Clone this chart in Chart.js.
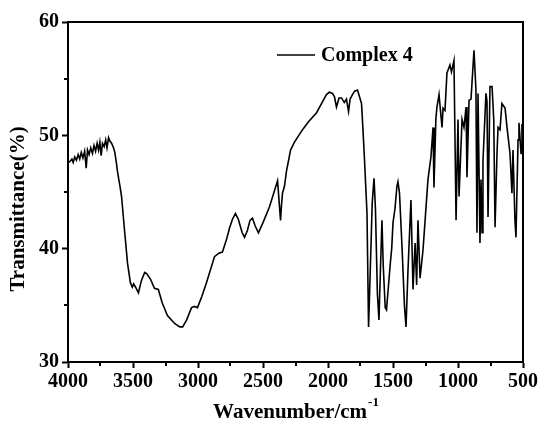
<!DOCTYPE html>
<html>
<head>
<meta charset="utf-8">
<title>IR spectrum</title>
<script src="https://cdn.jsdelivr.net/npm/chart.js@4.4.0/dist/chart.umd.min.js"></script>
<style>
  html, body { margin: 0; padding: 0; background: #fff; }
</style>
</head>
<body>
<canvas id="irChart" width="542" height="430"></canvas>
<script>
"use strict";

// Wavenumber (cm-1) and transmittance (%)
const wavenumbers = [
  4000, 3985, 3970, 3960, 3948, 3935, 3922, 3910, 3898, 3885,
  3872, 3860, 3850, 3838, 3825, 3812, 3800, 3788, 3776, 3765,
  3755, 3745, 3735, 3722, 3710, 3700, 3688, 3678, 3665, 3650,
  3640, 3628, 3618, 3600, 3588, 3565, 3542, 3520, 3505, 3495,
  3475, 3458, 3435, 3410, 3395, 3365, 3335, 3305, 3275, 3235,
  3180, 3140, 3118, 3088, 3050, 3027, 3004, 2970, 2935, 2873,
  2840, 2812, 2781, 2758, 2735, 2712, 2690, 2660, 2642, 2620,
  2600, 2581, 2560, 2535, 2500, 2450, 2388, 2375, 2365, 2358,
  2350, 2335, 2320, 2288, 2258, 2196, 2150, 2088, 2050, 2012,
  1990, 1965, 1950, 1935, 1915, 1896, 1875, 1858, 1842, 1830,
  1812, 1795, 1773, 1760, 1742, 1731, 1719, 1700, 1688, 1675,
  1660, 1646, 1635, 1620, 1608, 1597, 1585, 1575, 1560, 1550,
  1540, 1523, 1510, 1500, 1485, 1470, 1462, 1450, 1430, 1412,
  1400, 1385, 1362, 1346, 1330, 1318, 1308, 1292, 1269, 1250,
  1231, 1208, 1192, 1185, 1170, 1162, 1146, 1123, 1115, 1100,
  1085, 1062, 1050, 1031, 1015, 1000, 992, 969, 954, 938,
  931, 915, 900, 877, 862, 854, 846, 831, 823, 815,
  808, 785, 777, 769, 754, 738, 725, 715, 700, 692,
  677, 662, 638, 623, 600, 585, 577, 562, 554, 538,
  531, 515, 508, 500
];

const transmittance = [
  47.6, 47.7, 47.9, 47.6, 48.1, 47.8, 48.3, 47.9, 48.5, 48.0,
  48.6, 47.1, 48.7, 48.3, 48.9, 48.4, 49.1, 48.6, 49.3, 48.7,
  49.4, 48.2, 49.3, 49.0, 49.6, 48.9, 49.8, 49.5, 49.3, 48.9,
  48.5, 47.6, 46.7, 45.5, 44.6, 41.6, 38.7, 37.0, 36.6, 36.9,
  36.5, 36.1, 37.2, 37.9, 37.8, 37.3, 36.5, 36.4, 35.2, 34.1,
  33.4, 33.1, 33.1, 33.7, 34.8, 34.9, 34.8, 35.8, 37.0, 39.3,
  39.6, 39.7, 40.8, 41.8, 42.6, 43.1, 42.6, 41.4, 41.0, 41.6,
  42.5, 42.7, 42.0, 41.4, 42.3, 43.7, 46.0, 44.0, 42.5, 43.8,
  44.9, 45.5, 46.8, 48.7, 49.4, 50.5, 51.2, 52.0, 52.8, 53.6,
  53.8, 53.7, 53.4, 52.5, 53.3, 53.3, 52.9, 53.2, 52.1, 53.2,
  53.6, 53.9, 54.0, 53.5, 52.8, 50.5, 47.8, 43.1, 33.1, 38.0,
  44.0, 46.2, 43.5, 36.0, 33.7, 38.0, 42.5, 38.5, 34.8, 34.6,
  36.0, 38.4, 40.0, 42.3, 43.5, 45.5, 45.9, 44.9, 40.0, 35.0,
  33.1, 38.0, 44.3, 36.4, 40.5, 36.8, 42.5, 37.4, 39.9, 43.0,
  46.1, 48.1, 50.7, 45.4, 51.5, 52.5, 53.6, 50.7, 52.4, 52.2,
  55.5, 56.2, 55.6, 56.6, 42.5, 51.4, 44.6, 51.4, 50.7, 52.5,
  46.3, 53.1, 53.2, 57.5, 54.0, 41.4, 53.7, 40.5, 46.1, 41.4,
  47.7, 53.7, 53.0, 42.8, 54.3, 54.3, 51.4, 41.9, 48.4, 50.7,
  50.5, 52.8, 52.4, 50.7, 48.4, 44.9, 48.7, 42.5, 41.0, 49.6,
  51.1, 48.4, 51.0, 50.0
];

const xTicks = [4000, 3500, 3000, 2500, 2000, 1500, 1000, 500];
const yTicks = [30, 40, 50, 60];
const xMinorTicks = [3750, 3250, 2750, 2250, 1750, 1250, 750];
const yMinorTicks = [35, 45, 55];
const seriesName = "Complex 4";

const SERIF = "'Liberation Serif', 'Times New Roman', serif";

// frame, minor ticks, legend and axis titles
const decorations = {
  id: "decorations",
  afterDraw(chart) {
    const { ctx, chartArea: a, scales } = chart;
    ctx.save();
    ctx.strokeStyle = "#000";
    ctx.lineWidth = 2;
    ctx.strokeRect(a.left, a.top, a.right - a.left, a.bottom - a.top);

    ctx.beginPath();
    xMinorTicks.forEach((v) => {
      const x = Math.round(scales.x.getPixelForValue(v));
      ctx.moveTo(x, a.bottom);
      ctx.lineTo(x, a.bottom + 4);
    });
    yMinorTicks.forEach((v) => {
      const y = Math.round(scales.y.getPixelForValue(v));
      ctx.moveTo(a.left, y);
      ctx.lineTo(a.left - 4, y);
    });
    ctx.stroke();

    // legend
    ctx.lineWidth = 1.6;
    ctx.beginPath();
    ctx.moveTo(277, 55);
    ctx.lineTo(315, 55);
    ctx.stroke();
    ctx.fillStyle = "#000";
    ctx.font = "bold 20px " + SERIF;
    ctx.textBaseline = "middle";
    ctx.textAlign = "left";
    ctx.fillText(seriesName, 321, 56);

    // x title with superscript
    const main = "Wavenumber/cm";
    const sup = "-1";
    ctx.font = "bold 21px " + SERIF;
    const wMain = ctx.measureText(main).width;
    ctx.font = "bold 13px " + SERIF;
    const wSup = ctx.measureText(sup).width;
    const cx = (a.left + a.right) / 2;
    const x0 = cx - (wMain + wSup) / 2;
    ctx.textBaseline = "alphabetic";
    ctx.font = "bold 21px " + SERIF;
    ctx.fillText(main, x0, 418);
    ctx.font = "bold 13px " + SERIF;
    ctx.fillText(sup, x0 + wMain + 1, 406);

    // y title
    ctx.translate(19, 209);
    ctx.rotate(-Math.PI / 2);
    ctx.font = "bold 21px " + SERIF;
    ctx.textAlign = "center";
    ctx.textBaseline = "middle";
    ctx.fillText("Transmittance(%)", 0, 0);
    ctx.restore();
  }
};

const ctx = document.getElementById("irChart").getContext("2d");
new Chart(ctx, {
  type: "line",
  data: {
    datasets: [
      {
        label: seriesName,
        data: wavenumbers.map((w, i) => ({ x: w, y: transmittance[i] })),
        borderColor: "#000",
        borderWidth: 1.6,
        pointRadius: 0,
        tension: 0,
        fill: false
      }
    ]
  },
  options: {
    responsive: false,
    animation: false,
    devicePixelRatio: 1,
    layout: { padding: { top: 22, right: 19, left: 0, bottom: 0 } },
    plugins: {
      legend: { display: false },
      tooltip: { enabled: false }
    },
    scales: {
      x: {
        type: "linear",
        reverse: true,
        min: 500,
        max: 4000,
        afterFit: (scale) => { scale.height = 68; },
        afterBuildTicks: (scale) => {
          scale.ticks = xTicks.map((v) => ({ value: v }));
        },
        grid: {
          drawOnChartArea: false,
          drawTicks: true,
          tickLength: 6,
          tickColor: "#000",
          tickWidth: 2
        },
        border: { display: true, color: "#000", width: 2 },
        ticks: {
          color: "#000",
          padding: 2,
          maxRotation: 0,
          callback: (v) => String(v),
          font: { family: SERIF, size: 20, weight: "bold" }
        }
      },
      y: {
        min: 30,
        max: 60,
        afterFit: (scale) => { scale.width = 68; },
        afterBuildTicks: (scale) => {
          scale.ticks = yTicks.map((v) => ({ value: v }));
        },
        grid: {
          drawOnChartArea: false,
          drawTicks: true,
          tickLength: 6,
          tickColor: "#000",
          tickWidth: 2
        },
        border: { display: true, color: "#000", width: 2 },
        ticks: {
          color: "#000",
          padding: 3,
          callback: (v) => String(v),
          font: { family: SERIF, size: 20, weight: "bold" }
        }
      }
    }
  },
  plugins: [decorations]
});
</script>
</body>
</html>
